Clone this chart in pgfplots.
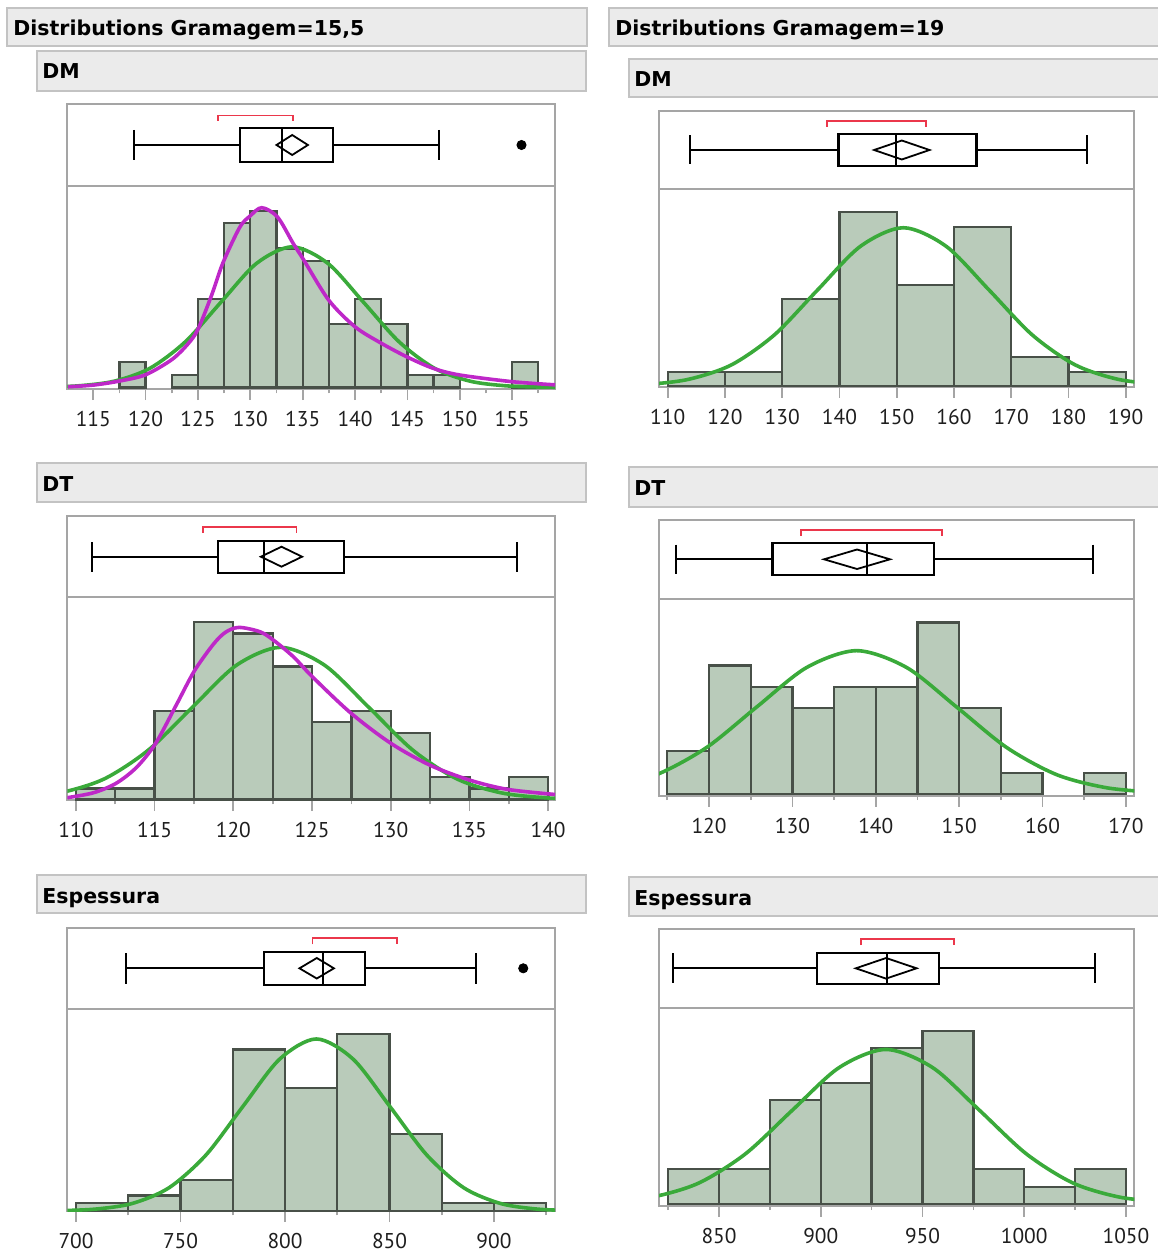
\documentclass[border=0pt]{standalone}
\usepackage{fontspec}
\setmainfont{PT Sans}
\newfontfamily\hdrfont{DejaVu Sans}
\usepackage{pgfplots}
\pgfplotsset{compat=1.18}

\definecolor{framegray}{RGB}{165,165,165}
\definecolor{hdrfill}{RGB}{235,235,235}
\definecolor{hdrdraw}{RGB}{195,195,195}
\definecolor{barfill}{RGB}{185,203,186}
\definecolor{baredge}{RGB}{72,80,72}
\definecolor{fitgreen}{RGB}{58,170,58}
\definecolor{fitmag}{RGB}{190,40,200}
\definecolor{brkred}{RGB}{235,55,75}
\definecolor{tickcol}{RGB}{30,30,30}

\newcommand\hdr{\hdrfont\bfseries\fontsize{10.25}{12}\selectfont}
\newcommand\tickfont{\fontsize{10.7}{12}\selectfont}

\pgfplotsset{
  panel/.style={scale only axis, anchor=south west,
    axis line style={draw=framegray, line width=0.85pt}, ytick=\empty, clip=true},
  hist/.style={panel, xtick pos=left, tick align=outside,
    major tick length=5.5pt, minor tick length=2.2pt,
    tick style={draw=framegray, line width=0.85pt},
    scaled x ticks=false,
    xticklabel style={font=\tickfont, text=tickcol, anchor=center, yshift=-9.5pt}},
  boxax/.style={panel, xtick=\empty, y dir=reverse},
  bars/.style={ybar, bar width=#1, fill=barfill, draw=baredge, line width=1.15pt},
  gfit/.style={fitgreen, line width=1.8pt, smooth, no marks},
  mfit/.style={fitmag, line width=1.8pt, smooth, no marks},
  bline/.style={black, line width=1.1pt, no marks},
  dline/.style={black, line width=0.9pt, no marks, line join=miter},
  brk/.style={brkred, line width=0.9pt, no marks},
  outl/.style={only marks, mark=*, mark size=2.3pt, black},
}

\begin{document}
\begin{tikzpicture}
% ---------------- headers ----------------
\begin{scope}[x=0.5pt,y=-0.5pt]
  \draw[hdrdraw, fill=hdrfill, line width=1pt] (7,8) rectangle (587,46);
  \node[anchor=base west, inner sep=0pt] at (13,36) {\hdr Distributions Gramagem=15,5};
  \draw[hdrdraw, fill=hdrfill, line width=1pt] (609,8) rectangle (1170,46);
  \node[anchor=base west, inner sep=0pt] at (615,36) {\hdr Distributions Gramagem=19};

  \draw[hdrdraw, fill=hdrfill, line width=1pt] (37,51) rectangle (586,91);
  \node[anchor=base west, inner sep=0pt] at (42,79) {\hdr DM};
  \draw[hdrdraw, fill=hdrfill, line width=1pt] (629,59) rectangle (1170,97);
  \node[anchor=base west, inner sep=0pt] at (634,87) {\hdr DM};

  \draw[hdrdraw, fill=hdrfill, line width=1pt] (37,463) rectangle (586,502);
  \node[anchor=base west, inner sep=0pt] at (42,491) {\hdr DT};
  \draw[hdrdraw, fill=hdrfill, line width=1pt] (629,467) rectangle (1170,507);
  \node[anchor=base west, inner sep=0pt] at (634,495) {\hdr DT};

  \draw[hdrdraw, fill=hdrfill, line width=1pt] (37,875) rectangle (586,913);
  \node[anchor=base west, inner sep=0pt] at (42,903) {\hdr Espessura};
  \draw[hdrdraw, fill=hdrfill, line width=1pt] (629,877) rectangle (1170,916);
  \node[anchor=base west, inner sep=0pt] at (634,905) {\hdr Espessura};
\end{scope}

% ================= L1 : DM, 15,5 =================
\begin{axis}[boxax, at={(33.65pt,-93pt)}, width=243.85pt, height=41pt,
  xmin=112.52, xmax=159.10, ymin=104, ymax=186]
  \addplot[bline] coordinates {(118.89,145) (129.0,145)};
  \addplot[bline] coordinates {(137.9,145) (148.0,145)};
  \addplot[bline] coordinates {(118.89,130) (118.89,160)};
  \addplot[bline] coordinates {(148.0,130) (148.0,160)};
  \addplot[bline] coordinates {(129.0,128) (137.9,128) (137.9,162) (129.0,162) (129.0,128) (137.9,128)};
  \addplot[bline] coordinates {(133.0,128) (133.0,162)};
  \addplot[dline] coordinates {(132.5,145) (134.0,135) (135.5,145) (134.0,155) (132.5,145) (134.0,135)};
  \addplot[brk] coordinates {(126.9,121) (126.9,115.5) (134.1,115.5) (134.1,121)};
  \addplot[outl] coordinates {(155.9,145)};
\end{axis}
\begin{axis}[hist, at={(33.65pt,-194.5pt)}, width=243.85pt, height=101.5pt,
  xmin=112.52, xmax=159.10, ymin=-0.13, ymax=15.96,
  xtick={115,120,125,130,135,140,145,150,155},
  xticklabels={115,120,125,130,135,140,145,150,155},
  minor xtick={117.5,122.5,127.5,132.5,137.5,142.5,147.5,152.5,157.5}]
  \addplot[bars=2.5] coordinates {(118.75,2) (123.75,1) (126.25,7) (128.75,13) (131.25,14)
    (133.75,11) (136.25,10) (138.75,5) (141.25,7) (143.75,5) (146.25,1) (148.75,1) (156.25,2)};
  \addplot[gfit] coordinates {(106.8,0.0037) (110.2,0.0245) (113.6,0.1237) (117.0,0.489)
    (120.4,1.507) (123.8,3.617) (127.2,6.756) (130.6,9.831) (134.0,11.14) (137.4,9.831)
    (140.8,6.756) (144.2,3.617) (147.6,1.507) (151.0,0.489) (154.4,0.1237) (157.8,0.0245) (161.2,0.0037)};
  \addplot[mfit] coordinates {(112.6,0.05) (115,0.18) (117.5,0.5) (120,1.0) (122.5,2.2)
    (124,3.4) (125,4.6) (126.3,7.3) (127.4,9.9) (129,12.7) (130,13.6) (131.1,14.24) (132.6,13.5) (134.1,11.4)
    (135.1,10.1) (137.5,6.9) (140,4.8) (142.5,3.5) (145,2.4) (147.5,1.5) (150,0.98)
    (155,0.45) (159.1,0.2)};
\end{axis}

% ================= R1 : DM, 19 =================
\begin{axis}[boxax, at={(329.5pt,-94.65pt)}, width=237.65pt, height=39.15pt,
  xmin=108.48, xmax=191.5, ymin=111, ymax=189.3]
  \addplot[bline] coordinates {(113.83,150) (139.83,150)};
  \addplot[bline] coordinates {(163.94,150) (183.19,150)};
  \addplot[bline] coordinates {(113.83,135.5) (113.83,164.5)};
  \addplot[bline] coordinates {(183.19,135.5) (183.19,164.5)};
  \addplot[bline] coordinates {(139.83,134.3) (163.94,134.3) (163.94,165.7) (139.83,165.7) (139.83,134.3) (163.94,134.3)};
  \addplot[bline] coordinates {(149.84,134.3) (149.84,165.7)};
  \addplot[dline] coordinates {(146.05,150) (150.89,140.5) (155.73,150) (150.89,159.5) (146.05,150) (150.89,140.5)};
  \addplot[brk] coordinates {(137.84,126.7) (137.84,120.7) (155.05,120.7) (155.05,126.7)};
\end{axis}
\begin{axis}[hist, at={(329.5pt,-193.35pt)}, width=237.65pt, height=98.7pt,
  xmin=108.48, xmax=191.5, ymin=-0.03, ymax=13.58,
  xtick={110,120,130,140,150,160,170,180,190},
  xticklabels={110,120,130,140,150,160,170,180,190}]
  \addplot[bars=10] coordinates {(115,1) (125,1) (135,6) (145,12) (155,7) (165,11) (175,2) (185,1)};
  \addplot[gfit] coordinates {(98.65,0.024) (106.15,0.121) (113.65,0.480) (121.15,1.479)
    (128.65,3.549) (136.15,6.629) (143.65,9.646) (151.15,10.93) (158.65,9.646) (166.15,6.629)
    (173.65,3.549) (181.15,1.479) (188.65,0.480) (196.15,0.121)};
\end{axis}

% ================= L2 : DT, 15,5 =================
\begin{axis}[boxax, at={(33.65pt,-298.65pt)}, width=243.85pt, height=40.65pt,
  xmin=109.45, xmax=140.44, ymin=516, ymax=597.3]
  \addplot[bline] coordinates {(111.0,556.7) (119.04,556.7)};
  \addplot[bline] coordinates {(127.03,556.7) (138.0,556.7)};
  \addplot[bline] coordinates {(111.0,542) (111.0,571.5)};
  \addplot[bline] coordinates {(138.0,542) (138.0,571.5)};
  \addplot[bline] coordinates {(119.04,540.7) (127.03,540.7) (127.03,572.7) (119.04,572.7) (119.04,540.7) (127.03,540.7)};
  \addplot[bline] coordinates {(121.94,540.7) (121.94,572.7)};
  \addplot[dline] coordinates {(121.75,556.7) (123.06,546.7) (124.37,556.7) (123.06,566.7) (121.75,556.7) (123.06,546.7)};
  \addplot[brk] coordinates {(118.05,532.7) (118.05,526.7) (124.02,526.7) (124.02,532.7)};
\end{axis}
\begin{axis}[hist, at={(33.65pt,-400pt)}, width=243.85pt, height=101.35pt,
  xmin=109.45, xmax=140.44, ymin=-0.05, ymax=18.26,
  xtick={110,115,120,125,130,135,140},
  xticklabels={110,115,120,125,130,135,140},
  minor xtick={112.5,117.5,122.5,127.5,132.5,137.5}]
  \addplot[bars=2.5] coordinates {(111.25,1) (113.75,1) (116.25,8) (118.75,16) (121.25,15)
    (123.75,12) (126.25,7) (128.75,8) (131.25,6) (133.75,2) (136.25,1) (138.75,2)};
  \addplot[gfit] coordinates {(103.4,0.030) (106.2,0.153) (109.0,0.603) (111.8,1.859)
    (114.6,4.461) (117.4,8.333) (120.2,12.126) (123.0,13.74) (125.8,12.126) (128.6,8.333)
    (131.4,4.461) (134.2,1.859) (137.0,0.603) (139.8,0.153) (142.6,0.030)};
  \addplot[mfit] coordinates {(109.45,0.16) (111.1,0.6) (112.54,1.45) (113.85,2.9)
    (115.06,5.06) (116.4,8.6) (117.52,11.6) (118.72,14.0) (119.5,15.1) (120.36,15.54)
    (121.69,15.15) (122.54,14.4) (123.81,12.9) (125.01,11.1) (127.47,7.8) (130.01,5.07)
    (132.49,3.1) (134.99,1.76) (137.42,0.91) (140.44,0.45)};
\end{axis}

% ================= R2 : DT, 19 =================
\begin{axis}[boxax, at={(329.5pt,-299.5pt)}, width=237.65pt, height=39.5pt,
  xmin=114.0, xmax=171.0, ymin=520, ymax=599]
  \addplot[bline] coordinates {(116.04,559.3) (127.6,559.3)};
  \addplot[bline] coordinates {(146.98,559.3) (166.08,559.3)};
  \addplot[bline] coordinates {(116.04,544.5) (116.04,574)};
  \addplot[bline] coordinates {(166.08,544.5) (166.08,574)};
  \addplot[bline] coordinates {(127.6,543.3) (146.98,543.3) (146.98,575) (127.6,575) (127.6,543.3) (146.98,543.3)};
  \addplot[bline] coordinates {(138.94,543.3) (138.94,575)};
  \addplot[dline] coordinates {(133.79,559.3) (137.75,549.5) (141.70,559.3) (137.75,569) (133.79,559.3) (137.75,549.5)};
  \addplot[brk] coordinates {(131.03,535.7) (131.03,530) (147.97,530) (147.97,535.7)};
\end{axis}
\begin{axis}[hist, at={(329.5pt,-397.85pt)}, width=237.65pt, height=98.35pt,
  xmin=114.0, xmax=171.0, ymin=-0.075, ymax=9.1,
  xtick={120,130,140,150,160,170},
  xticklabels={120,130,140,150,160,170},
  minor xtick={115,125,135,145,155,165}]
  \addplot[bars=5] coordinates {(117.5,2) (122.5,6) (127.5,5) (132.5,4) (137.5,5) (142.5,5)
    (147.5,8) (152.5,4) (157.5,1) (167.5,1)};
  \addplot[gfit] coordinates {(101.7,0.074) (107.7,0.294) (113.7,0.905) (119.7,2.172)
    (125.7,4.058) (131.7,5.904) (137.7,6.69) (143.7,5.904) (149.7,4.058) (155.7,2.172)
    (161.7,0.905) (167.7,0.294) (173.7,0.074)};
\end{axis}

% ================= L3 : Espessura, 15,5 =================
\begin{axis}[boxax, at={(33.65pt,-504.5pt)}, width=243.85pt, height=40.35pt,
  xmin=695.8, xmax=929.2, ymin=928.3, ymax=1009]
  \addplot[bline] coordinates {(723.8,968.3) (790.1,968.3)};
  \addplot[bline] coordinates {(838.4,968.3) (891.4,968.3)};
  \addplot[bline] coordinates {(723.8,953) (723.8,984)};
  \addplot[bline] coordinates {(891.4,953) (891.4,984)};
  \addplot[bline] coordinates {(790.1,952.3) (838.4,952.3) (838.4,985) (790.1,985) (790.1,952.3) (838.4,952.3)};
  \addplot[bline] coordinates {(818.3,952.3) (818.3,985)};
  \addplot[dline] coordinates {(806.9,968.3) (815.2,958) (823.4,968.3) (815.2,978.5) (806.9,968.3) (815.2,958)};
  \addplot[brk] coordinates {(813.1,944.3) (813.1,937.7) (853.7,937.7) (853.7,944.3)};
  \addplot[outl] coordinates {(914.0,968.3)};
\end{axis}
\begin{axis}[hist, at={(33.65pt,-605.5pt)}, width=243.85pt, height=101pt,
  xmin=695.8, xmax=929.2, ymin=0, ymax=26.24,
  xtick={700,750,800,850,900},
  xticklabels={700,750,800,850,900},
  minor xtick={725,775,825,875,925}]
  \addplot[bars=25] coordinates {(712.5,1) (737.5,2) (762.5,4) (787.5,21) (812.5,16)
    (837.5,23) (862.5,10) (887.5,1) (912.5,1)};
  \addplot[gfit] coordinates {(674,0.0075) (691.6,0.049) (709.25,0.248) (726.9,0.981)
    (744.5,3.024) (762.1,7.257) (779.75,13.556) (797.4,19.724) (815,22.35) (832.6,19.724)
    (850.25,13.556) (867.9,7.257) (885.5,3.024) (903.1,0.981) (920.75,0.248) (938.4,0.049)};
\end{axis}

% ================= R3 : Espessura, 19 =================
\begin{axis}[boxax, at={(329.5pt,-503.85pt)}, width=237.65pt, height=39.35pt,
  xmin=820.5, xmax=1054.1, ymin=929, ymax=1007.7]
  \addplot[bline] coordinates {(827.25,968.3) (898.0,968.3)};
  \addplot[bline] coordinates {(958.1,968.3) (1034.8,968.3)};
  \addplot[bline] coordinates {(827.25,953.3) (827.25,983.3)};
  \addplot[bline] coordinates {(1034.8,953.3) (1034.8,983.3)};
  \addplot[bline] coordinates {(898.0,952.7) (958.1,952.7) (958.1,984) (898.0,984) (898.0,952.7) (958.1,952.7)};
  \addplot[bline] coordinates {(932.7,952.7) (932.7,984)};
  \addplot[dline] coordinates {(917.2,968.3) (932.1,958) (947.1,968.3) (932.1,978.6) (917.2,968.3) (932.1,958)};
  \addplot[brk] coordinates {(919.8,945) (919.8,939) (965.6,939) (965.6,945)};
\end{axis}
\begin{axis}[hist, at={(329.5pt,-602.85pt)}, width=237.65pt, height=99pt,
  xmin=820.5, xmax=1054.1, ymin=-0.1, ymax=11.33,
  xtick={850,900,950,1000,1050},
  xticklabels={850,900,950,1000,1050},
  minor xtick={825,875,925,975,1025}]
  \addplot[bars=25] coordinates {(837.5,2) (862.5,2) (887.5,6) (912.5,7) (937.5,9)
    (962.5,10) (987.5,2) (1012.5,1) (1037.5,2)};
  \addplot[gfit] coordinates {(794,0.099) (817,0.392) (840,1.207) (863,2.896) (886,5.410)
    (909,7.872) (932,8.92) (955,7.872) (978,5.410) (1001,2.896) (1024,1.207) (1047,0.392)
    (1070,0.099)};
\end{axis}

\pgfresetboundingbox
\path (0pt,0pt) rectangle (578.5pt,-626pt);
\end{tikzpicture}
\end{document}
